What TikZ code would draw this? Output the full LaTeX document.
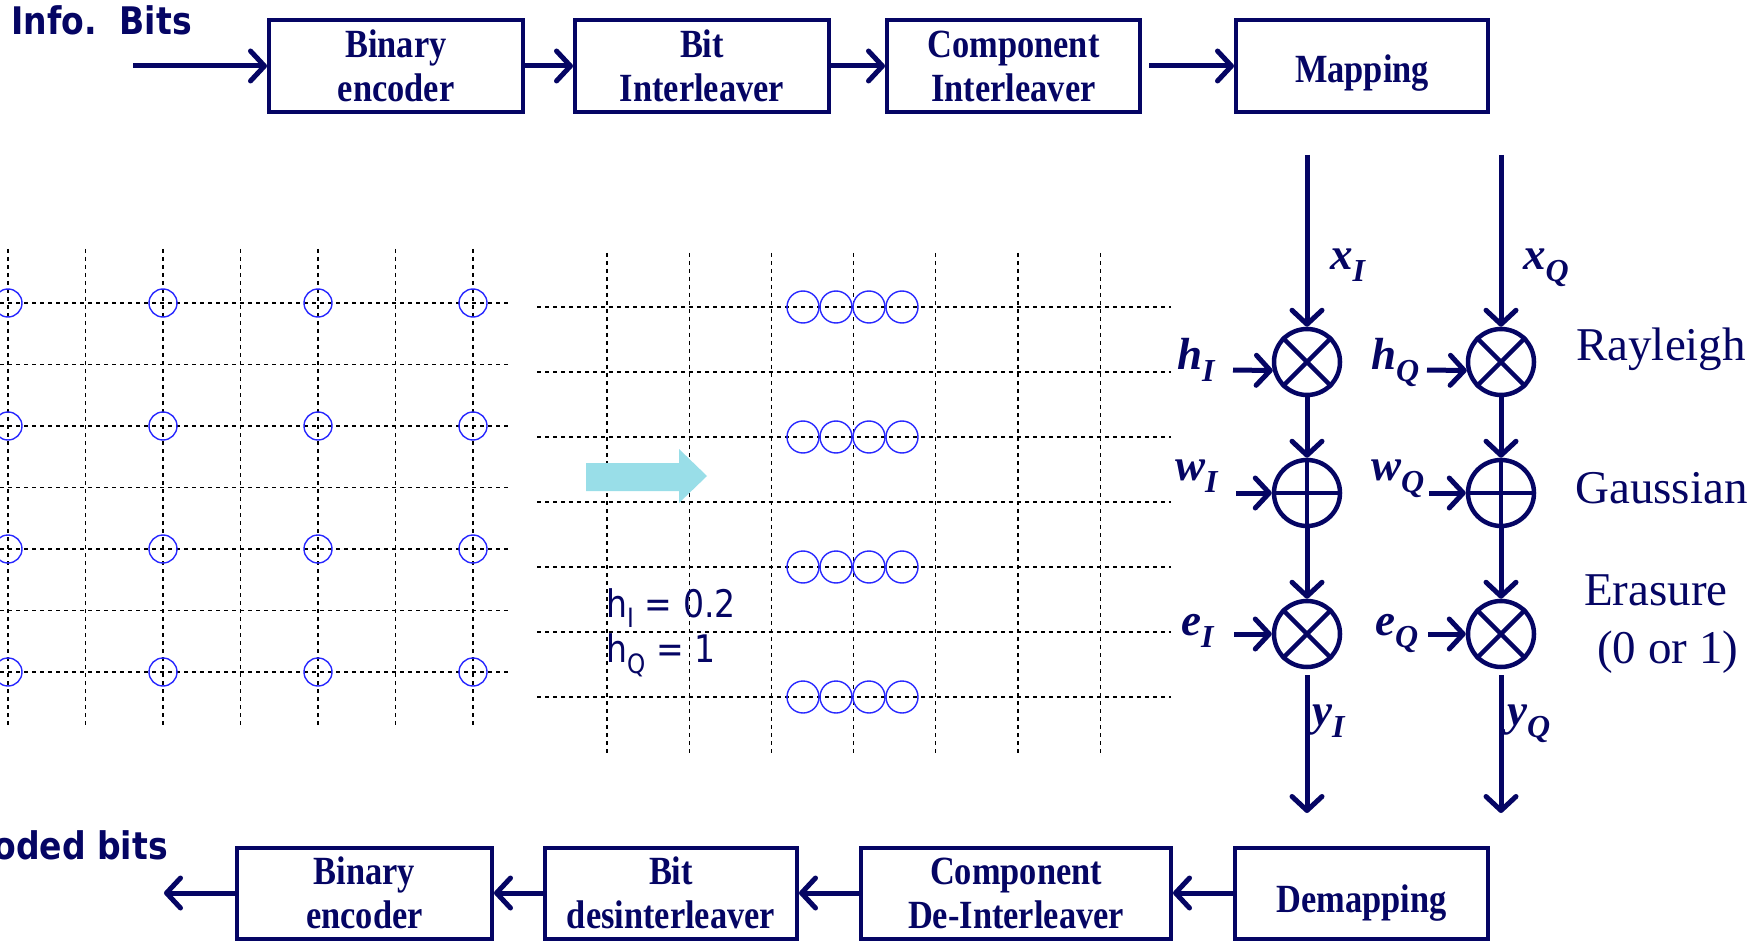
\documentclass[tikz,border=0pt]{standalone}
\usepackage{fontspec}
\setmainfont{Liberation Serif}
\newfontfamily\boxfont[FakeStretch=0.86]{Liberation Serif}
\newfontfamily\tah[FakeStretch=0.87]{DejaVu Sans}
\usetikzlibrary{arrows.meta}
\definecolor{navy}{RGB}{5,5,100}
\definecolor{ptblue}{RGB}{40,40,255}
\definecolor{cyanarr}{RGB}{153,222,232}
\newcommand{\lsub}[1]{\raisebox{-12pt}{\fontsize{32}{32}\selectfont #1}}
\begin{document}
\begin{tikzpicture}[x=1pt,y=-1pt,
  blk/.style={draw=navy, line width=4pt, minimum height=92pt, inner sep=0pt, align=center, text=navy, font=\boxfont\bfseries\fontsize{40}{44}\selectfont},
  arr/.style={draw=navy, line width=5pt, -{Straight Barb[length=14pt,width=30pt,round]}},
  mix/.style={circle, draw=navy, line width=4.5pt, minimum size=66pt, inner sep=0pt},
  mixline/.style={draw=navy, line width=4.5pt},
  grd/.style={black, line width=1.2pt, dash pattern=on 4pt off 4pt},
  ptc/.style={ptblue, line width=1.4pt},
  lab/.style={anchor=base west, text=navy, inner sep=0pt, font=\bfseries\itshape\fontsize{45}{45}\selectfont},
  chan/.style={anchor=base west, text=navy, inner sep=0pt, font=\fontsize{47}{47}\selectfont},
  sanslab/.style={anchor=base west, text=navy, inner sep=0pt, font=\tah\fontsize{38}{38}\selectfont}
]
\useasboundingbox (0,0) rectangle (1762,941);
\clip (0,0) rectangle (1762,941);

% ---- left constellation grid ----
\foreach \k in {0,...,6} {
  \draw[grd] ({8+77.5*\k},249) -- ({8+77.5*\k},725);
  \draw[grd] (0,{303+61.5*\k}) -- (510,{303+61.5*\k});
}
\foreach \i in {0,2,4,6} \foreach \j in {0,2,4,6}
  \draw[ptc] ({8+77.5*\i},{303+61.5*\j}) circle[radius=14];

% ---- middle constellation grid ----
\foreach \k in {0,...,6} {
  \draw[grd] ({607+82.2*\k},253) -- ({607+82.2*\k},755);
  \draw[grd] (537,{307+65*\k}) -- (1171,{307+65*\k});
}
\foreach \i in {0,...,3} \foreach \j in {0,...,3}
  \draw[ptc] ({803+33*\i},{307+130*\j}) circle[radius=16];

% cyan arrow
\fill[cyanarr] (586,463) -- (679,463) -- (679,449) -- (707,476) -- (679,503) -- (679,491) -- (586,491) -- cycle;

\node[sanslab] (hiv) at (606,617) {h\textsubscript{I} = 0.2};
\node[sanslab] (hqv) at (606,662) {h\textsubscript{Q} = 1};

% ---- top chain ----
\node[anchor=base west, text=navy, inner sep=0pt, font=\tah\bfseries\fontsize{38}{38}\selectfont] (info) at (11,35) {Info.\ \ Bits};
\node[blk, minimum width=254pt] (enc) at (396,66) {Binary\\encoder};
\node[blk, minimum width=254pt] (bil) at (702,66) {Bit\\Interleaver};
\node[blk, minimum width=253pt] (cil) at (1013.5,66) {Component\\Interleaver};
\node[blk, minimum width=252pt, text depth=0pt] (map) at (1362,66) {\raisebox{-6pt}{Mapping}};
\coordinate (inS) at (133,66);
\draw[arr] (inS) -- (enc.west);
\draw[arr] (enc.east) -- (bil.west);
\draw[arr] (bil.east) -- (cil.west);
\draw[arr, shorten <=7pt] (cil.east) -- (map.west);

% ---- channel ----
\coordinate (xIs) at (1307,155);
\coordinate (xQs) at (1501,155);
\node[mix] (mI) at (1307,362) {};
\node[mix] (aI) at (1307,493) {};
\node[mix] (eI) at (1307,634) {};
\node[mix] (mQ) at (1501,362) {};
\node[mix] (aQ) at (1501,493) {};
\node[mix] (eQ) at (1501,634) {};
\coordinate (yIe) at (1307,813);
\coordinate (yQe) at (1501,813);

\foreach \n in {mI,eI,mQ,eQ}
  \draw[mixline] (\n.45) -- (\n.225) (\n.135) -- (\n.315);
\foreach \n in {aI,aQ}
  \draw[mixline] (\n.north) -- (\n.south) (\n.west) -- (\n.east);

\draw[arr] (xIs) -- (mI.north);
\draw[arr] (mI.south) -- (aI.north);
\draw[arr] (aI.south) -- (eI.north);
\draw[arr, shorten <=6pt] (eI.south) -- (yIe);
\draw[arr] (xQs) -- (mQ.north);
\draw[arr] (mQ.south) -- (aQ.north);
\draw[arr] (aQ.south) -- (eQ.north);
\draw[arr, shorten <=6pt] (eQ.south) -- (yQe);

\coordinate (hIs) at (1233,370);
\coordinate (wIs) at (1236,493);
\coordinate (eIs) at (1234,634);
\coordinate (hQs) at (1427,370);
\coordinate (wQs) at (1429,493);
\coordinate (eQs) at (1428,634);
\draw[arr] (hIs) -- (mI.194);
\draw[arr] (wIs) -- (aI.west);
\draw[arr] (eIs) -- (eI.west);
\draw[arr] (hQs) -- (mQ.194);
\draw[arr] (wQs) -- (aQ.west);
\draw[arr] (eQs) -- (eQ.west);

\node[lab] (xIl) at (1330,270) {x\lsub{I}};
\node[lab] (xQl) at (1523,270) {x\lsub{Q}};
\node[lab] (hIl) at (1177,370) {h\lsub{I}};
\node[lab] (hQl) at (1371,370) {h\lsub{Q}};
\node[lab] (wIl) at (1175,480) {w\lsub{I}};
\node[lab] (wQl) at (1371,480) {w\lsub{Q}};
\node[lab] (eIl) at (1181,635) {e\lsub{I}};
\node[lab] (eQl) at (1375,635) {e\lsub{Q}};
\node[lab] (yIl) at (1312,725) {y\lsub{I}};
\node[lab] (yQl) at (1507,725) {y\lsub{Q}};

\node[chan] (ray) at (1576,360) {Rayleigh};
\node[chan] (gau) at (1575,503) {Gaussian};
\node[chan] (era) at (1584,605) {Erasure};
\node[chan] (era2) at (1597,663) {(0 or 1)};

% ---- bottom chain ----
\node[anchor=base east, text=navy, inner sep=0pt, font=\tah\bfseries\fontsize{38}{38}\selectfont] (dec) at (168,859) {Decoded bits};
\node[blk, minimum width=255pt, minimum height=91pt] (bdec) at (364.5,893) {Binary\\encoder};
\node[blk, minimum width=252pt, minimum height=91pt] (bdi) at (671,893) {Bit\\desinterleaver};
\node[blk, minimum width=310pt, minimum height=91pt] (cdi) at (1016,893) {Component\\De-Interleaver};
\node[blk, minimum width=253pt, minimum height=91pt, text depth=0pt] (dmp) at (1361.5,893) {\raisebox{-12pt}{Demapping}};
\coordinate (outE) at (164,893);
\draw[arr] (dmp.west) -- (cdi.east);
\draw[arr] (cdi.west) -- (bdi.east);
\draw[arr] (bdi.west) -- (bdec.east);
\draw[arr] (bdec.west) -- (outE);
\end{tikzpicture}
\end{document}
